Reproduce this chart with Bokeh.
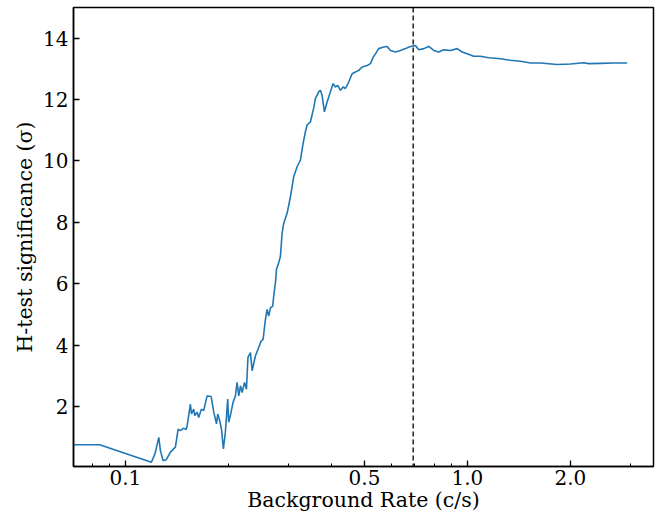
from bokeh.plotting import figure
from bokeh.models import Range1d, FixedTicker, Span, ColumnDataSource
from bokeh.embed import file_html
from bokeh.resources import INLINE

# ---- data ----
rate = [0.070, 0.0841, 0.1191, 0.1220, 0.1252, 0.1266, 0.1289, 0.1318, 0.1354, 0.1400,
        0.1426, 0.1448, 0.1481, 0.1505, 0.1515, 0.1549, 0.1560, 0.1584, 0.1595, 0.1621,
        0.1638, 0.1668, 0.1694, 0.1733, 0.1781, 0.1813, 0.1846, 0.1862, 0.1887, 0.1909,
        0.1934, 0.1960, 0.1991, 0.2004, 0.2037, 0.2064, 0.2097, 0.2121, 0.2145, 0.2170,
        0.2194, 0.2229, 0.2259, 0.2282, 0.2320, 0.2347, 0.2399, 0.2453, 0.2493, 0.2527,
        0.2566, 0.2596, 0.2624, 0.2655, 0.2696, 0.2714, 0.2746, 0.2764, 0.2807, 0.2839,
        0.2872, 0.2904, 0.2971, 0.3038, 0.3106, 0.3177, 0.3249, 0.3308, 0.3360, 0.3398,
        0.3474, 0.3552, 0.3593, 0.3673, 0.3716, 0.3758, 0.3818, 0.3888, 0.3975, 0.4048,
        0.4111, 0.4176, 0.4252, 0.4330, 0.4398, 0.4496, 0.4601, 0.4705, 0.4811, 0.4922,
        0.5091, 0.5205, 0.5301, 0.5383, 0.5503, 0.5692, 0.5824, 0.5955, 0.6159, 0.6369,
        0.6586, 0.6811, 0.6966, 0.7047, 0.7205, 0.7454, 0.7707, 0.7972, 0.8243, 0.8524,
        0.8919, 0.9330, 0.9650, 0.998, 1.043, 1.091, 1.154, 1.249, 1.336, 1.429,
        1.529, 1.635, 1.829, 2.001, 2.188, 2.263, 2.448, 2.678, 2.931]

significance = [0.75, 0.75, 0.18, 0.45, 0.99, 0.55, 0.23, 0.27, 0.51, 0.67,
                1.26, 1.21, 1.29, 1.24, 1.37, 2.07, 1.75, 1.91, 1.70, 1.81,
                1.64, 1.91, 1.86, 2.34, 2.32, 1.81, 1.43, 1.75, 1.53, 1.26,
                0.61, 1.16, 2.24, 1.48, 1.81, 2.13, 2.34, 2.78, 2.34, 2.67,
                2.45, 2.78, 2.56, 3.60, 3.75, 3.16, 3.64, 3.92, 4.13, 4.18,
                4.83, 5.16, 4.94, 5.21, 5.27, 5.59, 6.03, 6.46, 6.68, 6.89,
                7.65, 7.97, 8.30, 8.84, 9.49, 9.81, 10.03, 10.57, 10.95, 11.17,
                11.27, 11.72, 12.03, 12.25, 12.30, 12.14, 11.60, 11.92, 12.25, 12.52,
                12.41, 12.46, 12.30, 12.41, 12.36, 12.57, 12.84, 12.90, 12.95, 13.06,
                13.11, 13.17, 13.38, 13.49, 13.66, 13.71, 13.73, 13.60, 13.55, 13.60,
                13.66, 13.73, 13.75, 13.76, 13.62, 13.66, 13.73, 13.60, 13.55, 13.62,
                13.60, 13.66, 13.55, 13.49, 13.41, 13.41, 13.36, 13.33, 13.28, 13.25,
                13.19, 13.19, 13.14, 13.16, 13.20, 13.17, 13.18, 13.19, 13.19]

threshold_rate = 0.694

x_major = [0.1, 0.5, 1.0, 2.0]
x_major_labels = ["0.1", "0.5", "1.0", "2.0"]
x_minor = [0.08, 0.09, 0.2, 0.3, 0.4, 0.6, 0.7, 0.8, 0.9, 3.0]
y_major = [2, 4, 6, 8, 10, 12, 14]

FONT = "DejaVu Serif"

p = figure(width=655, height=514, x_axis_type="log",
           x_range=Range1d(0.0705, 3.5), y_range=Range1d(0.04, 15.0),
           output_backend="svg", toolbar_location=None,
           min_border_left=73, min_border_right=2, min_border_top=7, min_border_bottom=46)

src = ColumnDataSource(data=dict(x=rate, y=significance))
p.line("x", "y", source=src, line_color="#1f77b4", line_width=1.6)

p.add_layout(Span(location=threshold_rate, dimension="height", line_color="black",
                  line_width=1.3, line_dash="5 3"))

p.grid.visible = False
p.outline_line_color = "black"
p.outline_line_width = 1.5
p.outline_line_alpha = 1.0

p.xaxis.ticker = FixedTicker(ticks=x_major, minor_ticks=x_minor)
p.xaxis.major_label_overrides = {v: s for v, s in zip(x_major, x_major_labels)}
p.yaxis.ticker = FixedTicker(ticks=y_major, minor_ticks=[])

p.xaxis.axis_label = "Background Rate (c/s)"
p.yaxis.axis_label = "H-test significance (σ)"

for ax in (p.xaxis, p.yaxis):
    ax.axis_line_color = "black"
    ax.axis_line_width = 1.5
    ax.major_tick_line_color = "black"
    ax.major_tick_line_width = 1.3
    ax.minor_tick_line_color = "black"
    ax.minor_tick_line_width = 1.0
    ax.major_tick_in = 6
    ax.major_tick_out = 0
    ax.minor_tick_in = 3
    ax.minor_tick_out = 0
    ax.major_label_text_font = FONT
    ax.major_label_text_font_size = "20px"
    ax.major_label_text_color = "black"
    ax.axis_label_text_font = FONT
    ax.axis_label_text_font_size = "20.5px"
    ax.axis_label_text_font_style = "normal"
    ax.axis_label_text_color = "black"

p.xaxis.major_label_standoff = 3
p.xaxis.axis_label_standoff = 0
p.yaxis.major_label_standoff = 5
p.yaxis.axis_label_standoff = 3

open("out.html", "w").write(file_html(p, INLINE))
